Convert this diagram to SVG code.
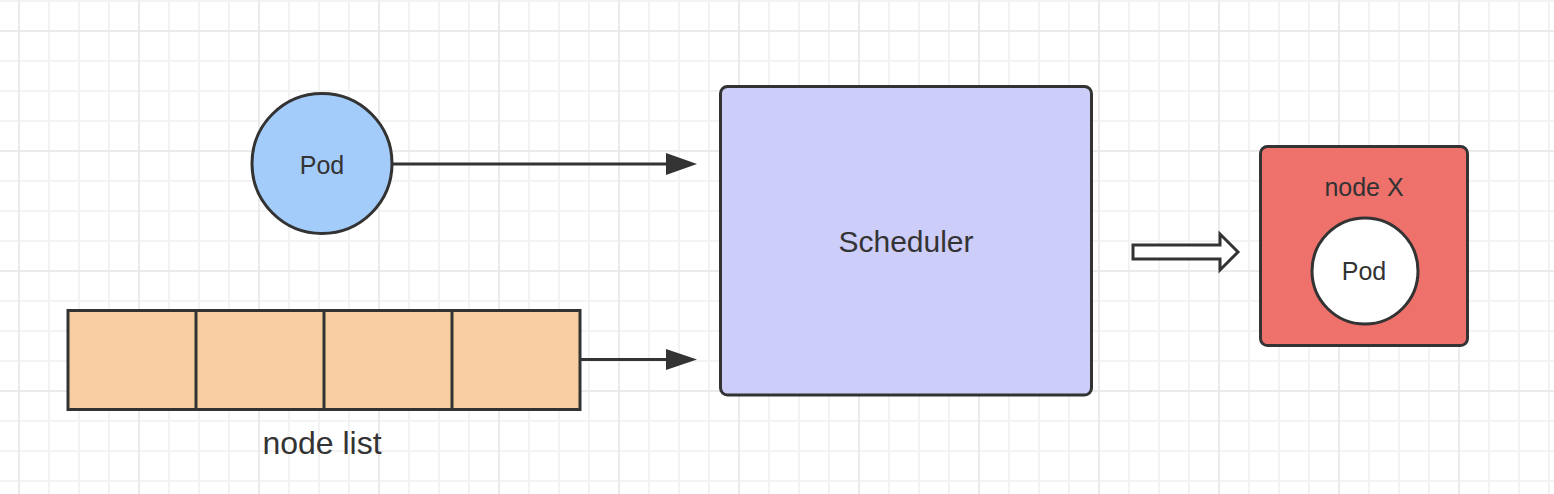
<svg xmlns="http://www.w3.org/2000/svg" width="1554" height="494" viewBox="0 0 1554 494">
<defs>
<pattern id="minor" x="18" y="0" width="30" height="30" patternUnits="userSpaceOnUse">
<path d="M1 0V30M0 1H30" fill="none" stroke="#f3f3f3" stroke-width="2"/>
</pattern>
<pattern id="major" x="18" y="30" width="120" height="120" patternUnits="userSpaceOnUse">
<path d="M1 0V120M0 1H120" fill="none" stroke="#ebebeb" stroke-width="2"/>
</pattern>
</defs>
<style>
.shape{stroke:#333333;stroke-width:3}
.txt{font-family:"Liberation Sans",Arial,sans-serif;fill:#333333;text-anchor:middle}
.line{stroke:#333333;stroke-width:3;fill:none}
.head{fill:#333333;stroke:none}
</style>
<rect width="1554" height="494" fill="#ffffff"/>
<rect width="1554" height="494" fill="url(#minor)"/>
<rect width="1554" height="494" fill="url(#major)"/>

<g id="pod">
<circle class="shape" cx="322" cy="163.5" r="70" fill="#a3ccfa"/>
<text class="txt" x="322" y="174" font-size="25">Pod</text>
</g>

<g id="node-list">
<rect class="shape" x="68" y="310.5" width="512" height="99" fill="#f7cda1"/>
<line class="shape" x1="196" y1="310.5" x2="196" y2="409.5"/>
<line class="shape" x1="324" y1="310.5" x2="324" y2="409.5"/>
<line class="shape" x1="452" y1="310.5" x2="452" y2="409.5"/>
<text class="txt" x="322" y="454" font-size="32">node list</text>
</g>

<g id="scheduler">
<rect class="shape" x="720.5" y="86.5" width="371" height="308.5" rx="7" fill="#cccdf9"/>
<text class="txt" x="906" y="252" font-size="30">Scheduler</text>
</g>

<g id="node-x">
<rect class="shape" x="1260.5" y="146.5" width="207" height="199" rx="7" fill="#ee716b"/>
<text class="txt" x="1364" y="196" font-size="25">node X</text>
<circle class="shape" cx="1365" cy="271" r="53" fill="#ffffff"/>
<text class="txt" x="1364" y="280" font-size="25">Pod</text>
</g>

<g id="connectors">
<line class="line" x1="393" y1="164" x2="668" y2="164"/>
<polygon class="head" points="666,153 697,164 666,175"/>
<line class="line" x1="580" y1="359.5" x2="668" y2="359.5"/>
<polygon class="head" points="666,349 697,359.5 666,370"/>
<polygon points="1133,245 1220,245 1220,234 1238,252 1220,270 1220,259 1133,259" fill="#ffffff" stroke="#333333" stroke-width="3" stroke-linejoin="miter"/>
</g>
</svg>
